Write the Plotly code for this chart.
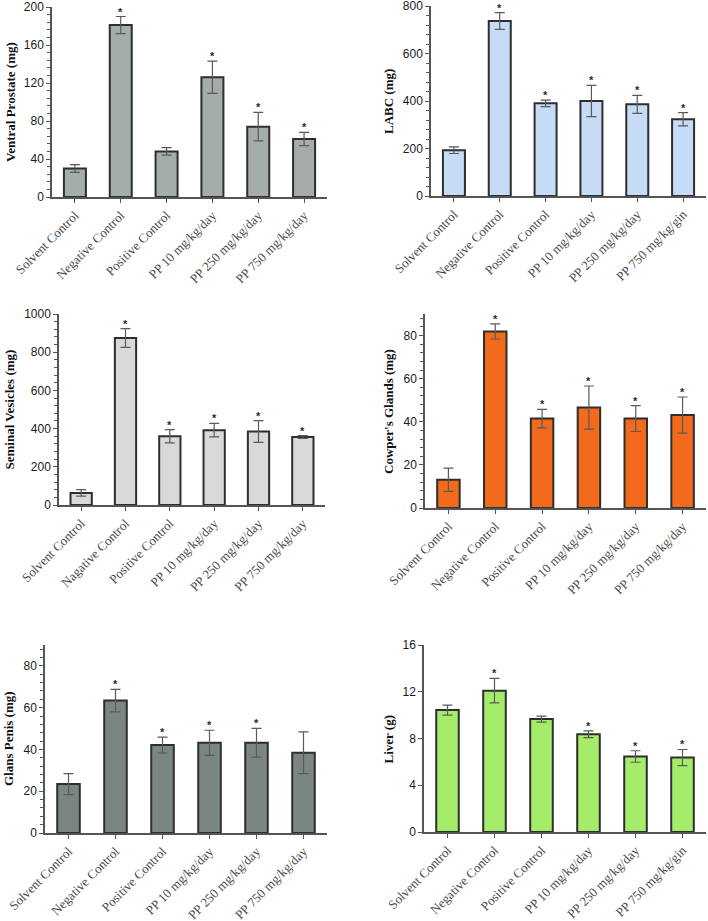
import plotly.graph_objects as go

W, H = 708, 921

# ---------------- data ----------------
categories = ["Solvent Control", "Negative Control", "Positive Control",
              "PP 10 mg/kg/day", "PP 250 mg/kg/day", "PP 750 mg/kg/day"]
categories_gin = ["Solvent Control", "Negative Control", "Positive Control",
                  "PP 10 mg/kg/day", "PP 250 mg/kg/day", "PP 750 mg/kg/gin"]
categories_nag = ["Solvent Control", "Nagative Control", "Positive Control",
                  "PP 10 mg/kg/day", "PP 250 mg/kg/day", "PP 750 mg/kg/day"]

vp_mean = [30, 181, 48, 126, 74, 61]
vp_err = [4, 9, 4, 17, 15, 7]
vp_sig = [0, 1, 0, 1, 1, 1]

labc_mean = [193, 737, 390, 400, 386, 323]
labc_err = [14, 35, 14, 66, 38, 28]
labc_sig = [0, 1, 1, 1, 1, 1]

sv_mean = [63, 874, 360, 392, 385, 356]
sv_err = [17, 49, 35, 35, 57, 7]
sv_sig = [0, 1, 1, 1, 1, 1]

cg_mean = [13.1, 81.9, 41.5, 46.6, 41.5, 43.1]
cg_err = [5.4, 3.5, 4.3, 10, 6, 8.4]
cg_sig = [0, 1, 1, 1, 1, 1]

gp_mean = [23.4, 63.4, 42.1, 43.2, 43.2, 38.4]
gp_err = [5, 5.4, 3.8, 6, 6.9, 10]
gp_sig = [0, 1, 1, 1, 1, 0]

liver_mean = [10.43, 12.09, 9.66, 8.37, 6.46, 6.37]
liver_err = [0.43, 1.05, 0.26, 0.29, 0.49, 0.69]
liver_sig = [0, 1, 0, 1, 1, 1]

y_titles = ["Ventral Prostate (mg)", "LABC (mg)", "Seminal Vesicles (mg)",
            "Cowper's Glands (mg)", "Glans Penis (mg)", "Liver (g)"]

# ---------------- styling / layout ----------------
panels = [
    dict(cats=categories, mean=vp_mean, err=vp_err, sig=vp_sig, color="#a4ada9",
         xpx=(52, 327), ypx=(7, 197), yrange=(0, 200), dtick=40, minor=8, titlex=10),
    dict(cats=categories_gin, mean=labc_mean, err=labc_err, sig=labc_sig, color="#c6dbf6",
         xpx=(431, 706), ypx=(6, 196), yrange=(0, 800), dtick=200, minor=40, titlex=388),
    dict(cats=categories_nag, mean=sv_mean, err=sv_err, sig=sv_sig, color="#d7dad9",
         xpx=(59, 325), ypx=(314, 505), yrange=(0, 1000), dtick=200, minor=40, titlex=9),
    dict(cats=categories, mean=cg_mean, err=cg_err, sig=cg_sig, color="#f26a1b",
         xpx=(425, 706), ypx=(314, 508), yrange=(0, 90), dtick=20, minor=4, titlex=388),
    dict(cats=categories, mean=gp_mean, err=gp_err, sig=gp_sig, color="#7b8682",
         xpx=(45, 327), ypx=(645, 833), yrange=(0, 90), dtick=20, minor=4, titlex=8),
    dict(cats=categories_gin, mean=liver_mean, err=liver_err, sig=liver_sig, color="#a5ec6b",
         xpx=(424, 706), ypx=(645, 832), yrange=(0, 16), dtick=4, minor=None, titlex=388),
]

fig = go.Figure()
annotations = []
layout_axes = {}

for i, p in enumerate(panels):
    n = i + 1
    xa = "x" if n == 1 else f"x{n}"
    ya = "y" if n == 1 else f"y{n}"
    fig.add_trace(go.Bar(
        x=p["cats"], y=p["mean"], xaxis=xa, yaxis=ya,
        marker=dict(color=p["color"], line=dict(color="#2e2e2e", width=2)),
        error_y=dict(type="data", array=p["err"], visible=True,
                     color="#5a5a5a", thickness=1.2, width=5),
        showlegend=False, hoverinfo="skip",
    ))
    xdom = [p["xpx"][0] / W, p["xpx"][1] / W]
    ydom = [1 - p["ypx"][1] / H, 1 - p["ypx"][0] / H]
    xkey = "xaxis" if n == 1 else f"xaxis{n}"
    ykey = "yaxis" if n == 1 else f"yaxis{n}"
    layout_axes[xkey] = dict(
        domain=xdom, anchor=ya, type="category", automargin=False,
        showline=True, linecolor="#555555", linewidth=1.5,
        ticks="outside", ticklen=4, tickcolor="#555555", tickwidth=1,
        tickangle=-45, showgrid=False, zeroline=False,
        tickfont=dict(family="Liberation Serif", size=13, color="#4a4a4a"),
    )
    yax = dict(
        domain=ydom, anchor=xa, range=list(p["yrange"]), automargin=False,
        tick0=0, dtick=p["dtick"], ticklabeloverflow="allow",
        showline=True, linecolor="#555555", linewidth=1.5,
        ticks="outside", ticklen=4, tickcolor="#555555", tickwidth=1,
        showgrid=False, zeroline=False,
        tickfont=dict(family="Liberation Sans", size=12, color="#1a1a1a"),
    )
    if p["minor"]:
        yax["minor"] = dict(dtick=p["minor"], ticks="outside", ticklen=3,
                            tickcolor="#555555", tickwidth=1, showgrid=False)
    layout_axes[ykey] = yax

    # significance asterisks
    for c, m, e, s in zip(p["cats"], p["mean"], p["err"], p["sig"]):
        if s:
            annotations.append(dict(
                x=c, y=m + e, xref=xa, yref=ya, text="<b>*</b>", showarrow=False,
                yanchor="bottom", yshift=-3,
                font=dict(family="Liberation Sans", size=11, color="#2a2a2a"),
            ))
    # y-axis title
    annotations.append(dict(
        x=p["titlex"] / W, y=1 - (p["ypx"][0] + p["ypx"][1]) / 2 / H,
        xref="paper", yref="paper", text=f"<b>{y_titles[i]}</b>",
        textangle=-90, showarrow=False, xanchor="center", yanchor="middle",
        font=dict(family="Liberation Serif", size=13, color="#111111"),
    ))

fig.update_layout(
    width=W, height=H,
    margin=dict(l=0, r=0, t=0, b=0, autoexpand=False),
    paper_bgcolor="white", plot_bgcolor="white",
    bargap=0.52,
    annotations=annotations,
    **layout_axes,
)

fig.write_html(
    "out.html",
    config={"displayModeBar": False},
    post_script="document.body.style.margin='0';document.body.style.overflow='hidden';",
)
